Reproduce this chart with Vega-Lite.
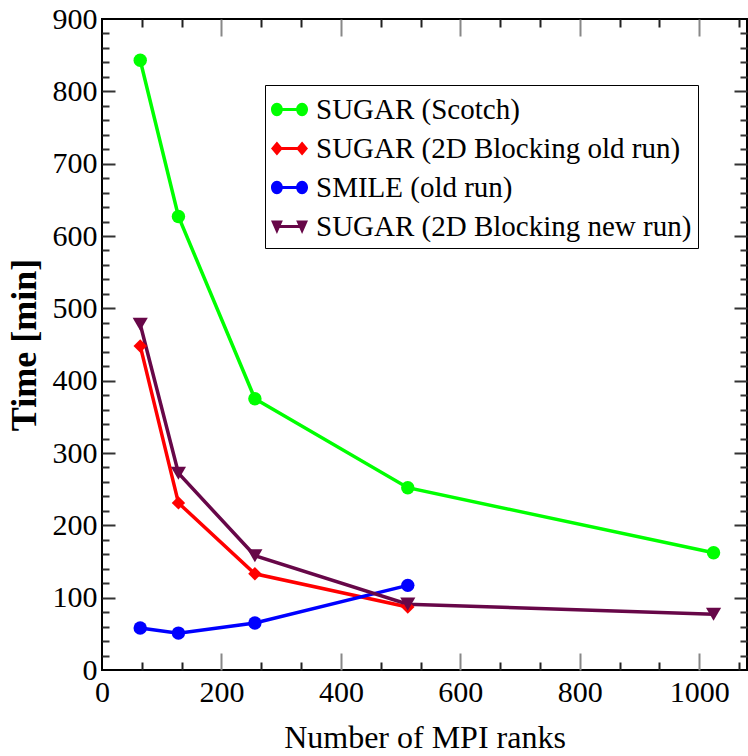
{
  "$schema": "https://vega.github.io/schema/vega-lite/v6.json",
  "autosize": "none",
  "padding": {"left": 102, "top": 19, "right": 1, "bottom": 86},
  "width": 645,
  "height": 651,
  "background": "white",
  "config": {
    "view": {"stroke": "black", "strokeWidth": 2},
    "font": "Liberation Serif, Times New Roman, serif",
    "axis": {"grid": false, "domain": false, "labelFont": "Liberation Serif, Times New Roman, serif", "titleFont": "Liberation Serif, Times New Roman, serif", "labelColor": "black", "titleColor": "black"},
    "legend": {"labelFont": "Liberation Serif, Times New Roman, serif"}
  },
  "resolve": {"axis": {"x": "independent", "y": "independent"}},
  "data": {
    "values": [
      {"series": "SUGAR (Scotch)", "ranks": 64, "time": 843},
      {"series": "SUGAR (Scotch)", "ranks": 128, "time": 627},
      {"series": "SUGAR (Scotch)", "ranks": 256, "time": 375},
      {"series": "SUGAR (Scotch)", "ranks": 512, "time": 252},
      {"series": "SUGAR (Scotch)", "ranks": 1024, "time": 162},
      {"series": "SUGAR (2D Blocking old run)", "ranks": 64, "time": 448},
      {"series": "SUGAR (2D Blocking old run)", "ranks": 128, "time": 231},
      {"series": "SUGAR (2D Blocking old run)", "ranks": 256, "time": 133},
      {"series": "SUGAR (2D Blocking old run)", "ranks": 512, "time": 87},
      {"series": "SMILE (old run)", "ranks": 64, "time": 58},
      {"series": "SMILE (old run)", "ranks": 128, "time": 51},
      {"series": "SMILE (old run)", "ranks": 256, "time": 65},
      {"series": "SMILE (old run)", "ranks": 512, "time": 117},
      {"series": "SUGAR (2D Blocking new run)", "ranks": 64, "time": 478},
      {"series": "SUGAR (2D Blocking new run)", "ranks": 128, "time": 272},
      {"series": "SUGAR (2D Blocking new run)", "ranks": 256, "time": 158},
      {"series": "SUGAR (2D Blocking new run)", "ranks": 512, "time": 91},
      {"series": "SUGAR (2D Blocking new run)", "ranks": 1024, "time": 77}
    ]
  },
  "layer": [
    {
      "mark": {"type": "line", "strokeWidth": 3.5},
      "encoding": {
        "x": {"field": "ranks", "type": "quantitative", "scale": {"domain": [0, 1080], "nice": false, "zero": false},
          "axis": {"orient": "bottom", "title": "Number of MPI ranks", "titleFontSize": 32, "titleFontWeight": "normal", "titlePadding": 15,
            "values": [0, 200, 400, 600, 800, 1000], "format": "d", "ticks": false,
            "labelFontSize": 30, "labelPadding": 7, "labelFlush": false, "labelOverlap": false}},
        "y": {"field": "time", "type": "quantitative", "scale": {"domain": [0, 900], "nice": false},
          "axis": {"orient": "left", "title": "Time [min]", "titleFontSize": 36, "titleFontWeight": "bold", "titlePadding": 9,
            "values": [0, 100, 200, 300, 400, 500, 600, 700, 800, 900], "format": "d", "ticks": false,
            "labelFontSize": 30, "labelPadding": 5, "labelOverlap": false, "labelFlush": false}},
        "color": {"field": "series", "type": "nominal",
          "scale": {"domain": ["SUGAR (Scotch)", "SUGAR (2D Blocking old run)", "SMILE (old run)", "SUGAR (2D Blocking new run)"],
                    "range": ["#00ff00", "#ff0000", "#0000ff", "#670748"]}}
      }
    },
    {
      "transform": [{"filter": "datum.series === 'SUGAR (Scotch)'"}],
      "mark": {"type": "point", "shape": "circle", "filled": true, "size": 180, "opacity": 1},
      "encoding": {
        "x": {"field": "ranks", "type": "quantitative",
          "axis": {"orient": "bottom", "title": null, "labels": false, "ticks": false, "grid": true,
            "values": [200, 400, 600, 800, 1000],
            "gridDash": [17, 617, 17], "gridColor": "#888888", "gridWidth": 2, "gridOpacity": 1}},
        "y": {"field": "time", "type": "quantitative",
          "axis": {"orient": "left", "title": null, "labels": false, "ticks": false, "grid": true,
            "values": [100, 200, 300, 400, 500, 600, 700, 800],
            "gridDash": [13, 619, 13], "gridColor": "#333333", "gridWidth": 2, "gridOpacity": 1}},
        "color": {"field": "series", "type": "nominal",
          "legend": {"orient": "none", "legendX": 163, "legendY": 66, "title": null,
            "padding": 6, "rowPadding": 5, "strokeColor": "black", "fillColor": "white",
            "labelFont": "Liberation Serif, Times New Roman, serif", "labelFontSize": 29, "labelColor": "black", "labelLimit": 600, "labelOffset": 8,
            "symbolSize": 1369, "symbolStrokeWidth": 0, "symbolOpacity": 1,
            "encode": {"symbols": {"update": {
              "shape": {"signal": "datum.value === 'SUGAR (2D Blocking old run)' ? 'M -1 0 L -0.68 -0.38 L -0.36 0 L -0.68 0.38 Z M 0.36 0 L 0.68 -0.38 L 1 0 L 0.68 0.38 Z M -0.68 -0.08 L 0.68 -0.08 L 0.68 0.08 L -0.68 0.08 Z' : datum.value === 'SUGAR (2D Blocking new run)' ? 'M -1 -0.32 L -0.36 -0.32 L -0.68 0.4 Z M 0.36 -0.32 L 1 -0.32 L 0.68 0.4 Z M -0.68 -0.08 L 0.68 -0.08 L 0.68 0.08 L -0.68 0.08 Z' : 'M -1 0 A 0.32 0.36 0 1 1 -0.36 0 A 0.32 0.36 0 1 1 -1 0 Z M 0.36 0 A 0.32 0.36 0 1 1 1 0 A 0.32 0.36 0 1 1 0.36 0 Z M -0.68 -0.08 L 0.68 -0.08 L 0.68 0.08 L -0.68 0.08 Z'"}
            }}},
            "labelFont": "Liberation Serif"
          }}
      }
    },
    {
      "transform": [{"filter": "datum.series === 'SMILE (old run)'"}],
      "mark": {"type": "point", "shape": "circle", "filled": true, "size": 180, "opacity": 1},
      "encoding": {
        "x": {"field": "ranks", "type": "quantitative",
          "axis": {"orient": "bottom", "title": null, "labels": false, "ticks": false, "grid": true,
            "values": [66.667, 133.333, 266.667, 333.333, 466.667, 533.333, 666.667, 733.333, 866.667, 933.333, 1066.667],
            "gridDash": [8, 635, 8], "gridColor": "#222222", "gridWidth": 2, "gridOpacity": 1}},
        "y": {"field": "time", "type": "quantitative",
          "axis": {"orient": "left", "title": null, "labels": false, "ticks": false, "grid": true,
            "values": [20,40,60,80,120,140,160,180,220,240,260,280,320,340,360,380,420,440,460,480,520,540,560,580,620,640,660,680,720,740,760,780,820,840,860,880],
            "gridDash": [7, 631, 7], "gridColor": "#333333", "gridWidth": 2, "gridOpacity": 1}},
        "color": {"field": "series", "type": "nominal"}
      }
    },
    {
      "transform": [{"filter": "datum.series === 'SUGAR (2D Blocking old run)'"}],
      "mark": {"type": "point", "shape": "diamond", "filled": true, "size": 180, "opacity": 1},
      "encoding": {
        "x": {"field": "ranks", "type": "quantitative", "axis": null},
        "y": {"field": "time", "type": "quantitative", "axis": null},
        "color": {"field": "series", "type": "nominal"}
      }
    },
    {
      "transform": [{"filter": "datum.series === 'SUGAR (2D Blocking new run)'"}],
      "mark": {"type": "point", "shape": "triangle-down", "filled": true, "size": 230, "opacity": 1},
      "encoding": {
        "x": {"field": "ranks", "type": "quantitative", "axis": null},
        "y": {"field": "time", "type": "quantitative", "axis": null},
        "color": {"field": "series", "type": "nominal"}
      }
    }
  ]
}
